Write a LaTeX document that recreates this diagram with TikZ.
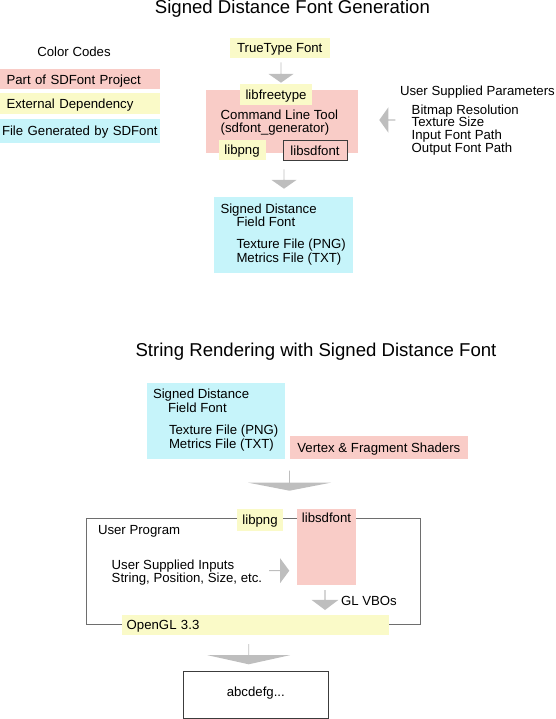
\documentclass[tikz,border=0pt]{standalone}
\usepackage{fontspec}
\setmainfont{Liberation Sans}
\usetikzlibrary{shapes.arrows,positioning}
\definecolor{sdpink}{RGB}{249,204,199}
\definecolor{sdyellow}{RGB}{250,250,200}
\definecolor{sdcyan}{RGB}{198,244,250}
\definecolor{arrowgray}{RGB}{190,190,190}
\definecolor{linegray}{RGB}{110,110,110}
\definecolor{boxline}{RGB}{60,60,60}

\begin{document}
\begin{tikzpicture}[x=1pt, y=-1pt,
    every node/.style={inner sep=0pt, outer sep=0pt, font=\fontsize{13.2}{13.3}\selectfont},
    txt/.style={anchor=base west},
    ctxt/.style={anchor=base},
    title/.style={anchor=base, font=\fontsize{18.6}{20}\selectfont},
    box/.style={anchor=north west, text height=9.5pt, text depth=0pt},
    part/.style={box, fill=sdpink},
    ext/.style={box, fill=sdyellow},
    gen/.style={box, fill=sdcyan},
    garrow/.style={single arrow, fill=arrowgray, minimum width=25pt, single arrow head extend=6.5pt, single arrow tip angle=110}]
  \useasboundingbox (0,0) rectangle (555,719);

  % Font generation (top)
  \node[title] (gentitle) at (292.4,14) {Signed Distance Font Generation};

  % Color codes
  \node[ctxt] (codes) at (74,56.5) {Color Codes};
  \node[part, minimum height=20pt, inner xsep=6.5pt, text width=146.5pt, align=left] (keypart) at (0,69.3) {Part of SDFont Project};
  \node[ext, minimum height=21.3pt, inner xsep=6.5pt, text width=146.5pt, align=left] (keyext) at (0,92.7) {External Dependency};
  \node[gen, minimum height=23.7pt, inner xsep=2pt, text width=156pt, align=left] (keygen) at (0,119) {File Generated by SDFont};

  % Generator tool
  \node[ext, minimum width=100.5pt, minimum height=20.6pt] (ttf) at (229.5,37.7) {TrueType Font};
  \node[garrow, shape border rotate=270, minimum height=20.4pt, anchor=tail] (ttfarrow) at (281,62.3) {};
  \node[part, minimum width=152.3pt, minimum height=63.5pt] (tool) at (206,90) {};
  \node[ext, minimum width=72pt, minimum height=21.5pt] (freetype) at (240,84) {libfreetype};
  \node[txt] (toolname) at (220.7,119.3) {Command Line Tool};
  \node[txt] (toolexe) at (220.7,132.7) {(sdfont\_generator)};
  \node[ext, minimum width=47pt, minimum height=20pt] (png) at (218.5,140) {libpng};
  \node[part, draw=boxline, line width=1pt, minimum width=64pt, minimum height=20pt] (sdlib) at (283,140.3) {libsdfont};

  % Parameters
  \node[garrow, shape border rotate=180, minimum height=16pt, minimum width=25.4pt, single arrow head extend=4.2pt, single arrow tip angle=109, anchor=tip] (paramarrow) at (379.3,120) {};
  \node[txt] (params) at (400,96) {User Supplied Parameters};
  \node[txt] (param1) at (411.7,114.3) {Bitmap Resolution};
  \node[txt] (param2) at (411.7,126.9) {Texture Size};
  \node[txt] (param3) at (411.7,139.8) {Input Font Path};
  \node[txt] (param4) at (411.7,152.7) {Output Font Path};

  % Generated font
  \node[garrow, shape border rotate=270, minimum height=19.4pt, anchor=tail] (sdfarrow) at (284,169.3) {};
  \node[gen, minimum width=139pt, minimum height=76pt] (sdf) at (214,196.7) {};
  \node[txt] (sdfname) at (220.5,213.3) {Signed Distance};
  \node[txt] (sdfname2) at (236.5,226) {Field Font};
  \node[txt] (sdftex) at (236.5,248.7) {Texture File (PNG)};
  \node[txt] (sdfmet) at (236.5,262) {Metrics File (TXT)};

  % String rendering (bottom)
  \node[title] (rendertitle) at (316,356.7) {String Rendering with Signed Distance Font};

  \node[gen, minimum width=138pt, minimum height=76.3pt] (font) at (147,382.7) {};
  \node[txt] (fontname) at (153,398.7) {Signed Distance};
  \node[txt] (fontname2) at (168,412.3) {Field Font};
  \node[txt] (fonttex) at (169,434.7) {Texture File (PNG)};
  \node[txt] (fontmet) at (169,448) {Metrics File (TXT)};
  \node[part, minimum width=177.7pt, minimum height=23pt] (shaders) at (290,436) {Vertex \& Fragment Shaders};

  \node[garrow, shape border rotate=270, minimum height=20pt, minimum width=83pt, single arrow head extend=19.5pt, single arrow tip angle=158, anchor=tail] (inarrow) at (289.5,470.7) {};

  % User program
  \node[box, draw=linegray, line width=1pt, minimum width=334pt, minimum height=106.3pt] (userprog) at (86,518) {};
  \node[txt] (userprogname) at (98,534) {User Program};
  \node[ext, minimum width=46.6pt, minimum height=22pt] (png2) at (236.7,509) {libpng};
  \node[part, minimum width=59pt, minimum height=76pt] (sdlib2) at (297,509) {};
  \node[ctxt] (sdlib2name) at (326.5,522.7) {libsdfont};
  \node[txt] (inputs) at (111.7,569.3) {User Supplied Inputs};
  \node[txt] (inputs2) at (111.7,582.7) {String, Position, Size, etc.};
  \node[garrow, shape border rotate=0, minimum height=20.3pt, minimum width=25pt, single arrow head extend=5pt, single arrow tip angle=107, anchor=tip] (inputarrow) at (289.3,570.7) {};
  \node[garrow, shape border rotate=270, minimum height=20pt, minimum width=26.6pt, single arrow head extend=5pt, single arrow tip angle=106, anchor=tail] (vboarrow) at (325,590) {};
  \node[txt] (vbo) at (341,605) {GL VBOs};
  \node[ext, minimum width=267.3pt, minimum height=19.4pt, inner xsep=4.7pt, text width=257.9pt, align=left] (gl) at (122,615.3) {OpenGL 3.3};

  % Output
  \node[garrow, shape border rotate=270, minimum height=20.3pt, minimum width=82.7pt, single arrow head extend=19pt, single arrow tip angle=155, anchor=tail] (outarrow) at (248.7,644) {};
  \node[box, draw=boxline, line width=1pt, minimum width=145pt, minimum height=46.6pt, text depth=6pt] (result) at (183.3,671.7) {abcdefg...};
\end{tikzpicture}
\end{document}
